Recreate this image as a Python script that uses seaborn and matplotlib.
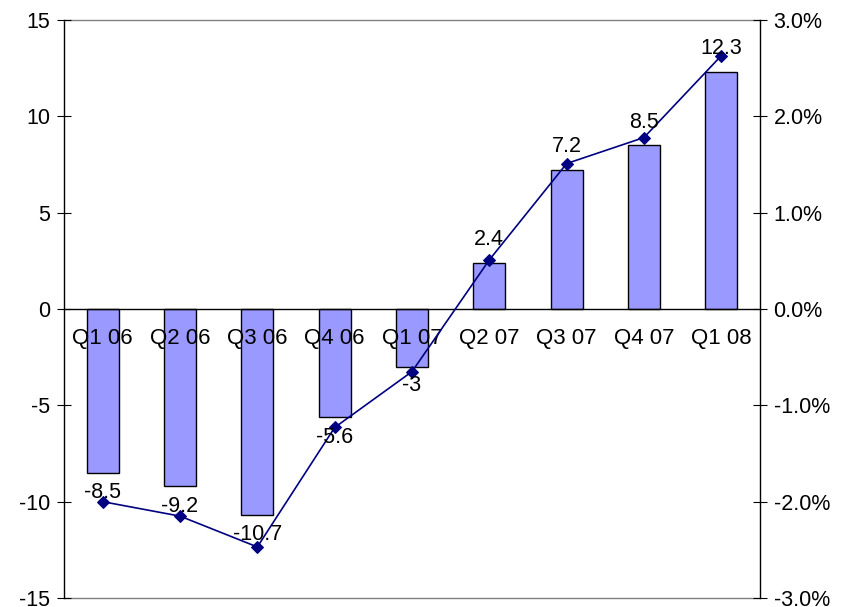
import matplotlib
matplotlib.use("Agg")
import matplotlib.pyplot as plt
import matplotlib.ticker as mticker
import numpy as np
import pandas as pd
import seaborn as sns

# Quarterly data
quarters = ["Q1 06", "Q2 06", "Q3 06", "Q4 06", "Q1 07", "Q2 07", "Q3 07", "Q4 07", "Q1 08"]
balance = [-8.5, -9.2, -10.7, -5.6, -3.0, 2.4, 7.2, 8.5, 12.3]
growth_pct = [-2.0, -2.15, -2.47, -1.23, -0.65, 0.51, 1.51, 1.78, 2.63]
value_labels = ["-8.5", "-9.2", "-10.7", "-5.6", "-3", "2.4", "7.2", "8.5", "12.3"]

# label placement relative to the line markers (points)
label_dy = [6.5, 7, 8.6, -7, -10, 15, 12, 11, 5]

sns.set_style("white", {"text.color": "black", "xtick.color": "black",
                        "ytick.color": "black", "axes.labelcolor": "black"})
plt.rcParams["font.family"] = ["Liberation Sans", "DejaVu Sans"]
plt.rcParams["axes.unicode_minus"] = False
FS = 15.5

fig = plt.figure(figsize=(8.48, 6.07), dpi=100)
ax = fig.add_axes([64 / 848, 9 / 607, 696 / 848, 578 / 607])

df = pd.DataFrame({"quarter": quarters, "balance": balance})
sns.barplot(data=df, x="quarter", y="balance", ax=ax, color="#9999FF",
            saturation=1, width=0.41, edgecolor="black", linewidth=1.0)
ax.set_axisbelow(False)

ax.set_xlim(-0.5, len(quarters) - 0.5)
ax.set_ylim(-15, 15)
ax.set_yticks(np.arange(-15, 16, 5))
ax.set_xlabel("")
ax.set_ylabel("")

# category axis sits on the zero line
ax.spines["bottom"].set_position(("data", 0))
ax.spines["bottom"].set_color("black")
ax.spines["bottom"].set_linewidth(1.0)
ax.spines["left"].set_color("black")
ax.spines["left"].set_linewidth(1.0)
ax.spines["top"].set_visible(True)
ax.spines["top"].set_color("#808080")
ax.spines["top"].set_linewidth(1.0)
ax.spines["right"].set_visible(False)

# frame line along the bottom of the plot area
ax.plot([0, 1], [0, 0], transform=ax.transAxes, color="#808080",
        lw=1.0, clip_on=False, zorder=0)

ax.set_xticks(range(len(quarters)))
ax.set_xticklabels(quarters, fontsize=FS + 0.5, color="black")
ax.tick_params(axis="x", which="major", length=0, pad=14)
ax.set_xticks(np.arange(0.5, len(quarters) - 1, 1.0), minor=True)
ax.tick_params(axis="x", which="minor", direction="inout", length=10,
               width=0.8, color="black")
ax.tick_params(axis="y", direction="inout", length=9.5, width=0.8,
               color="black", labelcolor="black", labelsize=FS, pad=5)

# growth rate on the secondary axis
ax2 = ax.twinx()
ax2.set_position(ax.get_position())
xs = np.arange(len(quarters))
sns.lineplot(x=xs, y=growth_pct, ax=ax2, color="#000080", linewidth=1.2,
             marker="D", markersize=6.5, markeredgecolor="#000080",
             markerfacecolor="#000080")
ax2.set_ylim(-3, 3)
ax2.set_yticks(np.arange(-3, 3.1, 1))
ax2.yaxis.set_major_formatter(mticker.FuncFormatter(lambda v, p: f"{v:.1f}%"))
ax2.tick_params(axis="y", direction="inout", length=9.5, width=0.8,
                color="black", labelcolor="black", labelsize=FS, pad=5)
ax2.set_xlim(-0.5, len(quarters) - 0.5)
for s in ["top", "bottom", "left"]:
    ax2.spines[s].set_visible(False)
ax2.spines["right"].set_visible(True)
ax2.spines["right"].set_color("black")
ax2.spines["right"].set_linewidth(1.0)

for x, y, txt, dy in zip(xs, growth_pct, value_labels, label_dy):
    ax2.annotate(txt, (x, y), xytext=(0, dy), textcoords="offset points",
                 ha="center", va="center", fontsize=FS, color="black")

fig.savefig("out.png", dpi=100, facecolor="white")
